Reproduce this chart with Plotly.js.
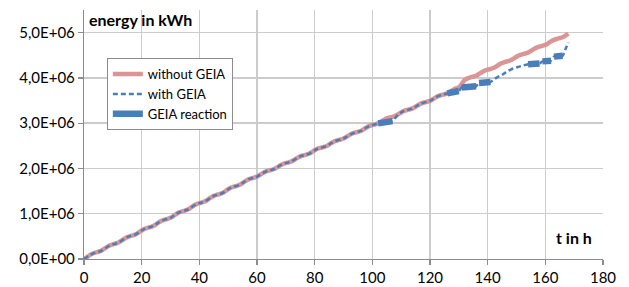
<!DOCTYPE html>
<html>
<head>
<meta charset="utf-8">
<script src="https://cdn.plot.ly/plotly-3.0.1.min.js"></script>
<style>html,body{margin:0;padding:0;background:#fff;}#chart{width:629px;height:287px;}</style>
</head>
<body>
<div id="chart"></div>
<script>
// time in h (hourly)
const hours = [];
for (let h = 0; h <= 168; h++) hours.push(h);

// energy in MWh, without GEIA
const withoutGEIA_MWh = [
  0, 40, 84, 120, 142, 160, 182, 222, 266, 302, 324, 342, 364, 404, 448, 484, 506, 524, 546, 586,
  630, 666, 688, 706, 728, 768, 812, 848, 870, 888, 910, 950, 994, 1030, 1052, 1070, 1092, 1132, 1176, 1212,
  1234, 1252, 1274, 1314, 1358, 1394, 1416, 1434, 1456, 1496, 1540, 1576, 1598, 1616, 1638, 1678, 1722, 1758, 1780, 1798,
  1820, 1857, 1897, 1931, 1951, 1968, 1988, 2025, 2065, 2099, 2119, 2136, 2156, 2193, 2233, 2267, 2287, 2304, 2324, 2361,
  2401, 2435, 2455, 2472, 2492, 2529, 2569, 2603, 2623, 2640, 2660, 2697, 2737, 2771, 2791, 2808, 2828, 2865, 2905, 2939,
  2959, 2975, 2995, 3031, 3071, 3105, 3125, 3141, 3161, 3197, 3237, 3271, 3291, 3307, 3327, 3363, 3403, 3437, 3457, 3473,
  3493, 3529, 3569, 3603, 3623, 3639, 3659, 3695, 3735, 3769, 3789, 3870, 3950, 3990, 4011, 4029, 4049, 4086, 4126, 4160,
  4181, 4199, 4219, 4256, 4296, 4330, 4351, 4369, 4389, 4426, 4466, 4500, 4521, 4539, 4559, 4596, 4636, 4670, 4691, 4709,
  4729, 4766, 4806, 4840, 4861, 4879, 4899, 4936, 4976
];

// energy in MWh, with GEIA
const withGEIA_MWh = [
  0, 40, 84, 120, 142, 160, 182, 222, 266, 302, 324, 342, 364, 404, 448, 484, 506, 524, 546, 586,
  630, 666, 688, 706, 728, 768, 812, 848, 870, 888, 910, 950, 994, 1030, 1052, 1070, 1092, 1132, 1176, 1212,
  1234, 1252, 1274, 1314, 1358, 1394, 1416, 1434, 1456, 1496, 1540, 1576, 1598, 1616, 1638, 1678, 1722, 1758, 1780, 1798,
  1820, 1857, 1897, 1931, 1951, 1968, 1988, 2025, 2065, 2099, 2119, 2136, 2156, 2193, 2233, 2267, 2287, 2304, 2324, 2361,
  2401, 2435, 2455, 2472, 2492, 2529, 2569, 2603, 2623, 2640, 2660, 2697, 2737, 2771, 2791, 2808, 2828, 2865, 2905, 2939,
  2959, 2975, 2995, 3005, 3015, 3025, 3035, 3045, 3120, 3197, 3237, 3271, 3291, 3307, 3327, 3363, 3403, 3437, 3457, 3473,
  3493, 3529, 3569, 3603, 3623, 3639, 3659, 3675, 3690, 3700, 3710, 3790, 3795, 3800, 3805, 3810, 3815, 3890, 3895, 3900,
  3905, 3910, 3955, 4000, 4040, 4070, 4110, 4150, 4185, 4210, 4230, 4250, 4270, 4285, 4300, 4305, 4310, 4315, 4320, 4365,
  4370, 4375, 4380, 4470, 4475, 4480, 4490, 4640, 4780
];

// GEIA reaction windows (h)
const reactionStart = [102, 126, 131, 137, 154, 159, 163];
const reactionEnd   = [107, 130, 136, 141, 158, 162, 166];

// axis ticks
const yTickVals = [0, 1e6, 2e6, 3e6, 4e6, 5e6];
const yTickText = ["0,0E+00", "1,0E+06", "2,0E+06", "3,0E+06", "4,0E+06", "5,0E+06"];
const xTickVals = [0, 20, 40, 60, 80, 100, 120, 140, 160, 180];

const toKWh = a => a.map(v => v * 1000);
const withoutGEIA = toKWh(withoutGEIA_MWh);
const withGEIA = toKWh(withGEIA_MWh);

const rx = [], ry = [];
for (let i = 0; i < reactionStart.length; i++) {
  for (let k = 0; k < hours.length; k++) {
    if (hours[k] >= reactionStart[i] && hours[k] <= reactionEnd[i]) {
      rx.push(hours[k]); ry.push(withGEIA[k]);
    }
  }
  rx.push(null); ry.push(null);
}

const pink = '#D99694';
const blue = '#4A7EBB';
const FONT = 'Lato, "Open Sans", sans-serif';

const traces = [
  {x: hours, y: withoutGEIA, type: 'scatter', mode: 'lines', name: 'without GEIA',
   line: {color: pink, width: 4.5, shape: 'spline', smoothing: 0.6}},
  {x: hours, y: withGEIA, type: 'scatter', mode: 'lines', name: 'with GEIA',
   line: {color: blue, width: 2.5, dash: '5px,3px', shape: 'spline', smoothing: 0.6}},
  {x: rx, y: ry, type: 'scatter', mode: 'lines', name: 'GEIA reaction',
   line: {color: blue, width: 6.5}, connectgaps: false}
];

const layout = {
  width: 629, height: 287,
  margin: {l: 84, r: 26, t: 10, b: 28},
  paper_bgcolor: '#fff', plot_bgcolor: '#fff',
  font: {family: FONT, size: 15, color: '#000'},
  showlegend: true,
  legend: {
    x: 0.044, y: 0.807, xanchor: 'left', yanchor: 'top',
    bgcolor: '#fff', bordercolor: '#8c8c8c', borderwidth: 1,
    font: {family: FONT, size: 13, color: '#000'},
    tracegroupgap: 0, itemwidth: 30
  },
  xaxis: {
    range: [0, 180], tickvals: xTickVals, ticktext: xTickVals.map(String),
    showgrid: true, gridcolor: '#cccccc', gridwidth: 1.5,
    showline: true, linecolor: '#8c8c8c', linewidth: 1.2,
    ticks: 'outside', ticklen: 5, tickcolor: '#8c8c8c', tickwidth: 1.2,
    zeroline: false, fixedrange: true,
    tickfont: {family: FONT, size: 15, color: '#000'}
  },
  yaxis: {
    range: [0, 5.5e6], tickvals: yTickVals, ticktext: yTickText,
    showgrid: true, gridcolor: '#cccccc', gridwidth: 1.5,
    showline: true, linecolor: '#8c8c8c', linewidth: 1.2,
    ticks: 'outside', ticklen: 5, tickcolor: '#8c8c8c', tickwidth: 1.2,
    zeroline: false, fixedrange: true,
    tickfont: {family: FONT, size: 15, color: '#000'}
  },
  annotations: [
    {text: '<b>energy in kWh</b>', xref: 'paper', yref: 'paper', x: 0.006, y: 1.01,
     xanchor: 'left', yanchor: 'top', showarrow: false, font: {family: FONT, size: 16, color: '#000'}},
    {text: '<b>t in h</b>', xref: 'paper', yref: 'paper', x: 0.983, y: 0.04,
     xanchor: 'right', yanchor: 'bottom', showarrow: false, font: {family: FONT, size: 16, color: '#000'}}
  ]
};

Plotly.newPlot('chart', traces, layout, {displayModeBar: false, staticPlot: true});
</script>
</body>
</html>
